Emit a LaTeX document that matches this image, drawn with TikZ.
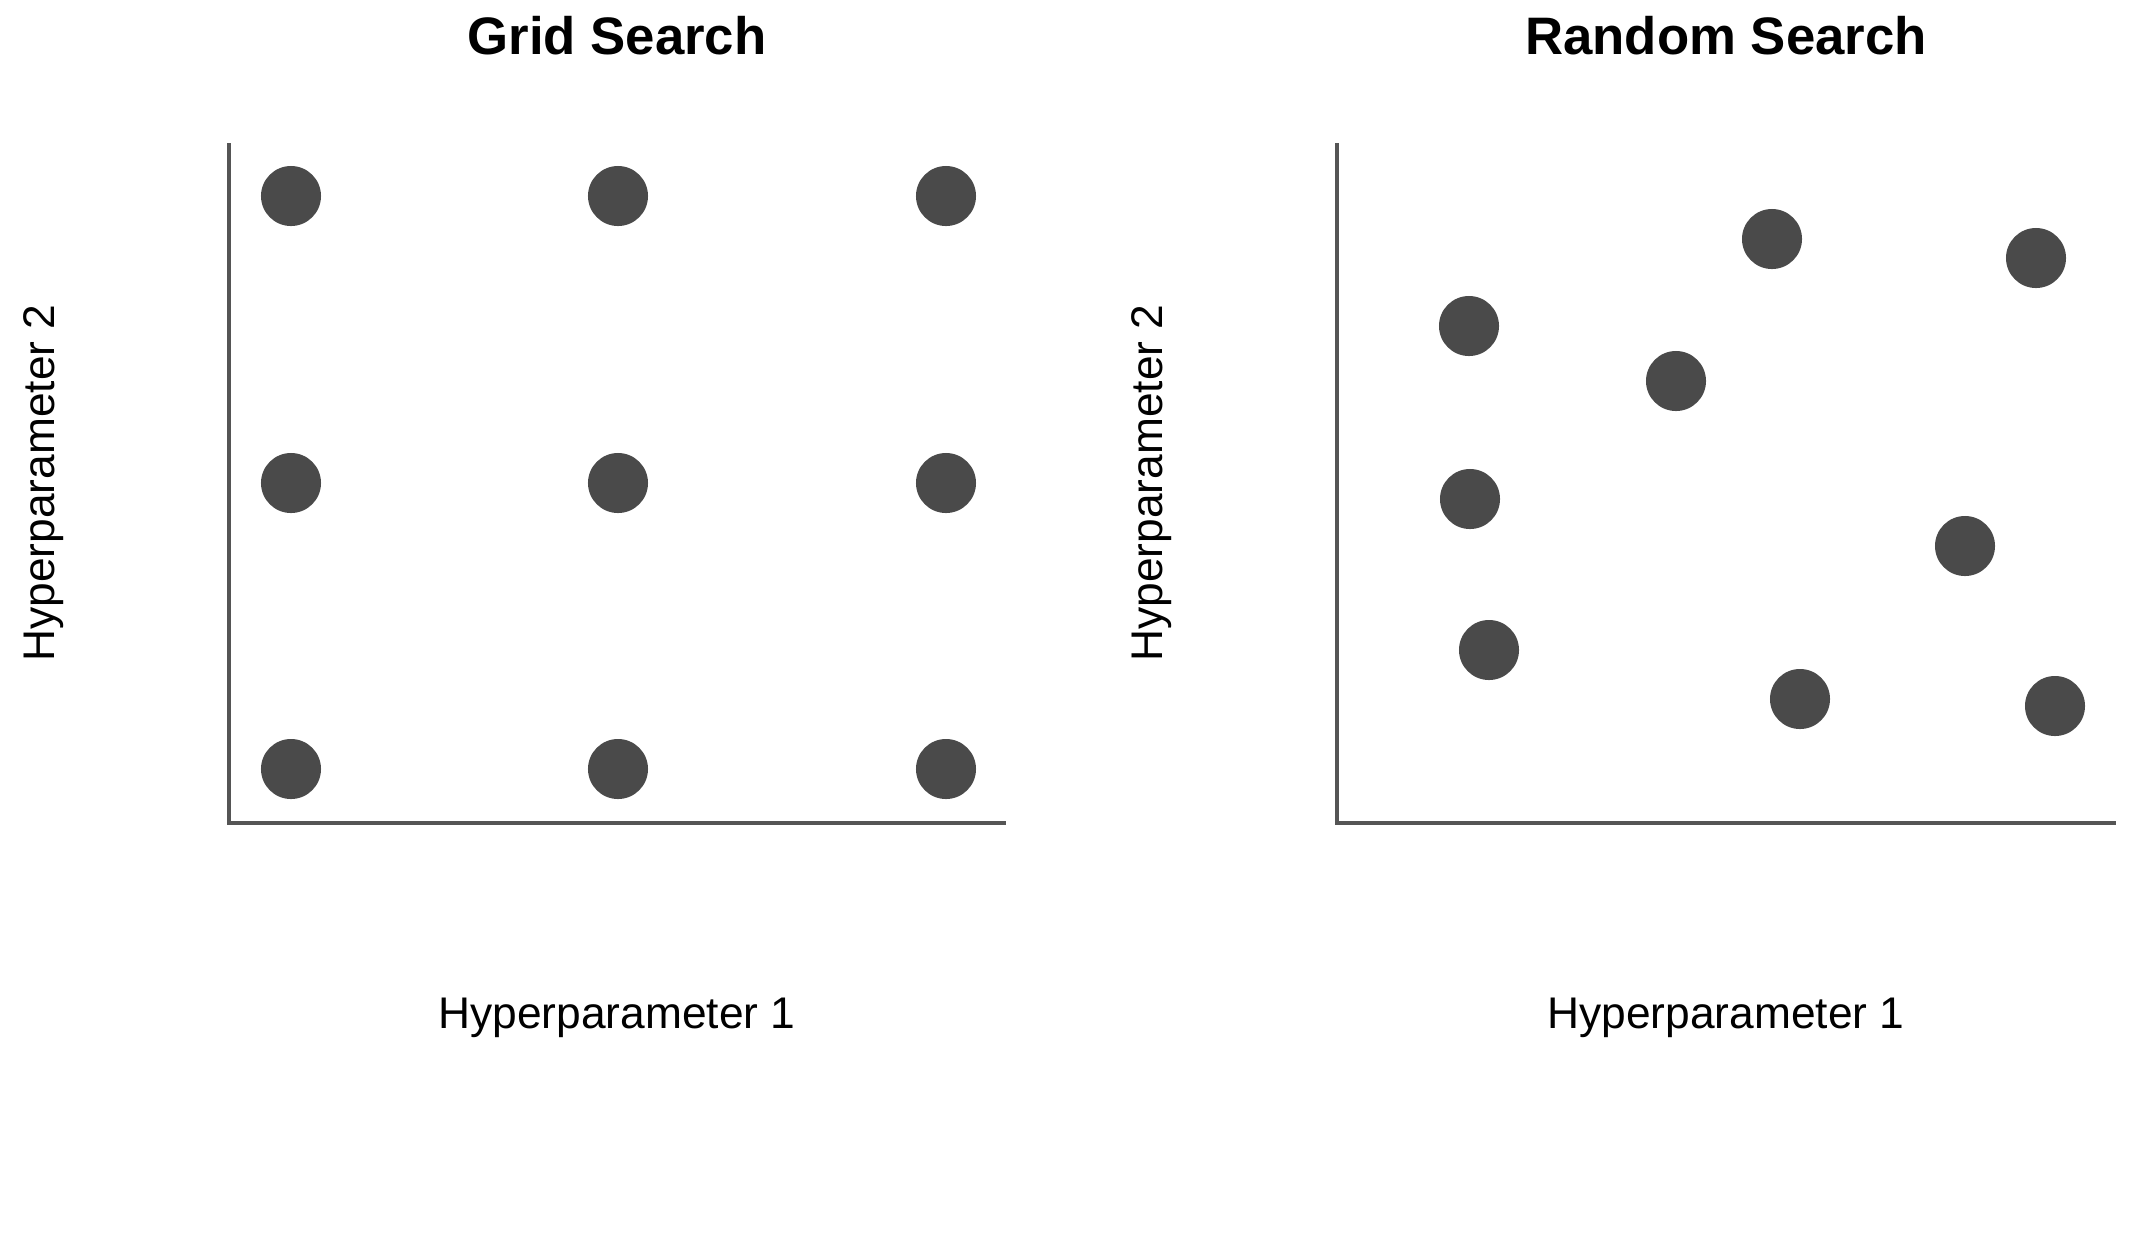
\documentclass[tikz,border=0pt]{standalone}
\usepackage{fontspec}
\setmainfont{Liberation Sans}
\usepackage{tikz}
\usetikzlibrary{positioning}
\definecolor{dotgrey}{HTML}{4A4A4A}
\definecolor{axisgrey}{HTML}{555555}
\tikzset{
    punkt/.style   = {circle, fill=dotgrey, inner sep=0pt, minimum size=0.6cm},
    achse/.style   = {draw=axisgrey, line width=1.1pt},
    titel/.style   = {font=\fontsize{15}{18}\selectfont\bfseries, inner sep=0pt},
    beschr/.style  = {font=\fontsize{12.6}{15}\selectfont, inner sep=0pt}
}
\begin{document}
\begin{tikzpicture}[x=0.01cm, y=-0.01cm]
        \useasboundingbox (0,0) rectangle (2150,1244);

        % --- Grid Search ---
        \node[titel] (tgrid) at (617,36) {Grid Search};
        \coordinate (g0) at (229,823);
        \coordinate (gy) at (229,143);
        \coordinate (gx) at (1006,823);
        \draw[achse] (gy) -- (g0) -- (gx);
        \foreach \i/\x in {1/291, 2/618, 3/946}
            \foreach \j/\y in {1/196, 2/483, 3/769}
                \node[punkt] (g\i\j) at (\x,\y) {};
        \node[beschr, rotate=90] (gly) at (44,483)  {Hyperparameter 2};
        \node[beschr]            (glx) at (617,1018) {Hyperparameter 1};

        % --- Random Search ---
        \node[titel] (trand) at (1726,36) {Random Search};
        \coordinate (r0) at (1337,823);
        \coordinate (ry) at (1337,143);
        \coordinate (rx) at (2116,823);
        \draw[achse] (ry) -- (r0) -- (rx);
        \foreach \n/\x/\y in {1/1469/326, 2/1772/239, 3/2036/258, 4/1676/381,
                              5/1470/499, 6/1965/546, 7/1489/650, 8/1800/699, 9/2055/706}
            \node[punkt] (r\n) at (\x,\y) {};
        \node[beschr, rotate=90] (rly) at (1152,483)  {Hyperparameter 2};
        \node[beschr]            (rlx) at (1726,1018) {Hyperparameter 1};
\end{tikzpicture}
\end{document}
